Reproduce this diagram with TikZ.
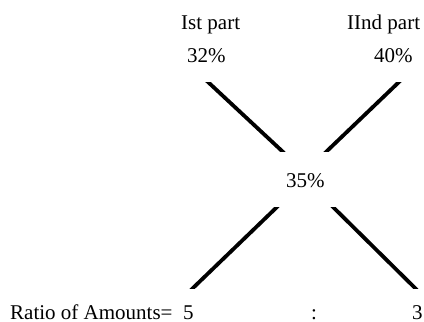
\documentclass[tikz,border=0pt]{standalone}
\usepackage{fontspec}
\setmainfont{Liberation Serif}
\begin{document}
\begin{tikzpicture}[x=1pt,y=-1pt,
  lbl/.style={anchor=base west,inner sep=0pt,font=\fontsize{21}{25}\selectfont},
  cross/.style={line width=3.8pt,line cap=butt,shorten <=-3pt,shorten >=-3pt}]
\useasboundingbox[fill=white] (0,0) rectangle (424,322);
\node[lbl] (p1) at (181,29) {Ist part};
\node[lbl] (v1) at (187,62) {32\%};
\node[lbl] (p2) at (347,29) {IInd part};
\node[lbl] (v2) at (374,62) {40\%};
\node[lbl] (mid) at (286,187) {35\%};
\node[lbl] (ratio) at (10,319) {Ratio of Amounts=\ \ 5};
\node[lbl] (colon) at (311,319) {:};
\node[lbl] (r2) at (412,319) {3};
\coordinate (a1) at (208,82);  \coordinate (a2) at (282,151);
\coordinate (b1) at (399,82);  \coordinate (b2) at (327,151);
\coordinate (c1) at (277,207); \coordinate (c2) at (193,288);
\coordinate (d1) at (333,207); \coordinate (d2) at (415,288);
\begin{scope}
\clip (0,82) rectangle (424,151);
\draw[cross] (a1) -- (a2);
\draw[cross] (b1) -- (b2);
\end{scope}
\begin{scope}
\clip (0,207) rectangle (424,288);
\draw[cross] (c1) -- (c2);
\draw[cross] (d1) -- (d2);
\end{scope}
\end{tikzpicture}
\end{document}
